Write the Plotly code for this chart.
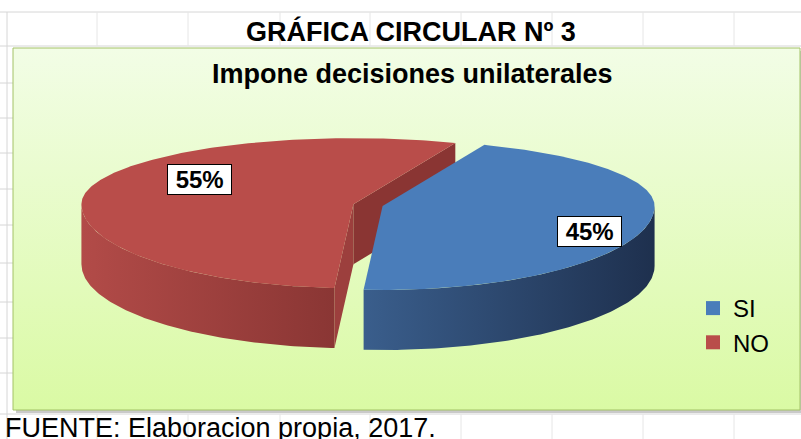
import numpy as np
import plotly.graph_objects as go

# ---------------- data ----------------
categories = ["SI", "NO"]
values = [45, 55]
top_colors = ["#4a7dba", "#b94d4a"]
side_colors = [["#3a5e8c", "#1e304e"], ["#b24b48", "#8a3634"]]
face_colors = [["#2c4770", "#2c4770"], ["#9c3f3d", "#8a3533"]]  # [start face, end face]
title_text = "GRÁFICA CIRCULAR Nº 3"
subtitle_text = "Impone decisiones unilaterales"
source_text = "FUENTE: Elaboracion propia, 2017."

# ---------------- layout constants (pixels) ----------------
W, H = 801, 439
CX, CY = 368, 205
RX, RY_BACK, RY_FRONT = 272, 66, 84
DEPTH = 60
EXPLODE = 0.055
START = 22  # degrees clockwise from 12 o'clock
LABEL_R = [0.78, 0.58]
LABEL_DY = [11, -16]
FONT = "Liberation Sans, Arial, sans-serif"


def ell(cx, cy, phi_deg, dz=0.0):
    p = np.radians(np.asarray(phi_deg, dtype=float))
    c = np.cos(p)
    ry = np.where(c >= 0, RY_BACK, RY_FRONT)
    return cx + RX * np.sin(p), cy - ry * c + dz


fig = go.Figure()

# ----- chart area background (gradient) -----
fig.add_trace(go.Scatter(
    x=[13, 800, 800, 13, 13], y=[48, 48, 410, 410, 48], mode="lines",
    fill="toself", line=dict(color="#a3c266", width=1),
    fillgradient=dict(type="vertical", start=48, stop=410,
                      colorscale=[[0, "#f2fde6"], [1, "#dafaa4"]]),
    hoverinfo="skip", showlegend=False))

total = float(sum(values))
angles = []
a = START
for v in values:
    angles.append((a, a + v / total * 360.0))
    a += v / total * 360.0

geo = []
for i, (a0, a1) in enumerate(angles):
    mid = (a0 + a1) / 2
    mr = np.radians(mid)
    ry = RY_BACK if np.cos(mr) >= 0 else RY_FRONT
    cx = CX + EXPLODE * RX * np.sin(mr)
    cy = CY - EXPLODE * ry * np.cos(mr)
    geo.append((cx, cy, a0, a1, mid))

# draw slices back-to-front: NO (left) first, then SI
for i in reversed(range(len(values))):
    cx, cy, a0, a1, mid = geo[i]
    # visible outer side: intersection with front half [90, 270] (+360k)
    for k in (-360, 0, 360):
        lo, hi = max(a0, 90 + k), min(a1, 270 + k)
        if hi > lo:
            ph = np.linspace(lo, hi, 120)
            xt, yt = ell(cx, cy, ph)
            xb, yb = ell(cx, cy, ph[::-1], DEPTH)
            fig.add_trace(go.Scatter(
                x=np.r_[xt, xb, xt[:1]], y=np.r_[yt, yb, yt[:1]], mode="lines",
                fill="toself", line=dict(width=0, color=side_colors[i][1]),
                fillgradient=dict(type="horizontal",
                                  colorscale=[[0, side_colors[i][0]], [1, side_colors[i][1]]]),
                hoverinfo="skip", showlegend=False))
    # cut faces facing the viewer
    for j, (b, front) in enumerate([(a0, np.sin(np.radians(a0)) < 0),
                                    (a1, np.sin(np.radians(a1)) > 0)]):
        if front:
            rx_, ry_ = ell(cx, cy, b)
            fig.add_trace(go.Scatter(
                x=[cx, float(rx_), float(rx_), cx, cx],
                y=[cy, float(ry_), float(ry_) + DEPTH, cy + DEPTH, cy],
                mode="lines", fill="toself", fillcolor=face_colors[i][j],
                line=dict(width=0, color=face_colors[i][j]),
                hoverinfo="skip", showlegend=False))
    # top face
    ph = np.linspace(a0, a1, 240)
    xt, yt = ell(cx, cy, ph)
    fig.add_trace(go.Scatter(
        x=np.r_[cx, xt, cx], y=np.r_[cy, yt, cy], mode="lines",
        fill="toself", fillcolor=top_colors[i],
        line=dict(width=0, color=top_colors[i]),
        hoverinfo="skip", showlegend=False))

# legend entries
for i, name in enumerate(categories):
    fig.add_trace(go.Scatter(
        x=[None], y=[None], mode="markers", name=name, legendgroup=name,
        marker=dict(symbol="square", size=14, color=top_colors[i]),
        showlegend=True))

# data labels
annotations = []
for i, v in enumerate(values):
    cx, cy, a0, a1, mid = geo[i]
    mr = np.radians(mid)
    ry = RY_BACK if np.cos(mr) >= 0 else RY_FRONT
    lx = cx + LABEL_R[i] * RX * np.sin(mr)
    ly = cy - LABEL_R[i] * ry * np.cos(mr) + LABEL_DY[i]
    annotations.append(dict(
        x=lx, y=ly, xref="x", yref="y", showarrow=False,
        text="\u00a0" + f"{v}%" + "\u00a0",
        font=dict(family=FONT, size=24, color="black", weight="bold"),
        bgcolor="white", bordercolor="black", borderwidth=1, borderpad=1))

annotations += [
    dict(x=411, y=31, xref="x", yref="y", showarrow=False, text=f"<b>{title_text}</b>",
         font=dict(family=FONT, size=27, color="black")),
    dict(x=412, y=74, xref="x", yref="y", showarrow=False, text=f"<b>{subtitle_text}</b>",
         font=dict(family=FONT, size=27, color="black")),
    dict(x=3, y=428, xref="x", yref="y", xanchor="left", showarrow=False, text=source_text,
         font=dict(family=FONT, size=27, color="black")),
]

# spreadsheet grid decoration
grid = "#d6d6d6"
shapes = [
    dict(type="rect", x0=16, y0=51, x1=803, y1=413, fillcolor="#c9c9c9",
         line=dict(width=0), layer="below"),
    dict(type="line", x0=0, x1=W, y0=12, y1=12, line=dict(color=grid, width=1), layer="below"),
    dict(type="line", x0=0, x1=W, y0=46, y1=46, line=dict(color=grid, width=1), layer="below"),
    dict(type="line", x0=0, x1=W, y0=414, y1=414, line=dict(color=grid, width=1), layer="below"),
    dict(type="line", x0=7, x1=7, y0=12, y1=H, line=dict(color=grid, width=1), layer="below"),
]
for gx in [97, 188, 280, 370, 461, 552, 643, 734]:
    shapes.append(dict(type="line", x0=gx, x1=gx, y0=12, y1=46,
                       line=dict(color="#e6e6e6", width=1), layer="below"))
    shapes.append(dict(type="line", x0=gx, x1=gx, y0=414, y1=H,
                       line=dict(color="#e6e6e6", width=1), layer="below"))
for gy in [83, 118, 153, 189, 225, 263, 302, 338, 373]:
    shapes.append(dict(type="line", x0=0, x1=13, y0=gy, y1=gy,
                       line=dict(color=grid, width=1), layer="below"))

fig.update_layout(
    width=W, height=H, margin=dict(l=0, r=0, t=0, b=0),
    paper_bgcolor="white", plot_bgcolor="white",
    xaxis=dict(range=[0, W], visible=False, fixedrange=True),
    yaxis=dict(range=[H, 0], visible=False, fixedrange=True),
    showlegend=True,
    legend=dict(x=693 / W, y=1 - 286 / H, xanchor="left", yanchor="top",
                bgcolor="rgba(0,0,0,0)", font=dict(family=FONT, size=24, color="black"),
                tracegroupgap=3, traceorder="normal"),
    annotations=annotations, shapes=shapes,
)

fig.write_html("out.html", config={"displayModeBar": False},
               post_script="document.body.style.margin='0px';")
